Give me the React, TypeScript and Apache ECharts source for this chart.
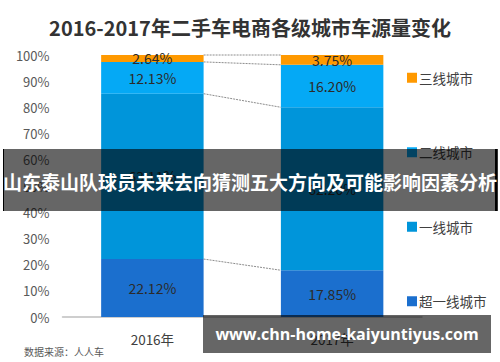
import React, { useEffect, useRef } from "react";
import * as echarts from "echarts";

const categories = ["2016年", "2017年"];
const seriesNames = ["超一线城市", "一线城市", "二线城市", "三线城市"];
const tier0 = [22.12, 17.85];
const tier1 = [63.11, 62.2];
const tier2 = [12.13, 16.2];
const tier3 = [2.64, 3.75];
const colors = ["#1B6FCE", "#0095DA", "#05A9F5", "#FF9900"];
const yTicks = [0, 10, 20, 30, 40, 50, 60, 70, 80, 90, 100];

const FONT = "'Noto Sans CJK SC', 'Noto Sans', sans-serif";

export default function App() {
  const ref = useRef<HTMLDivElement>(null);
  useEffect(() => {
    if (!ref.current) return;
    const chart = echarts.init(ref.current, undefined, { renderer: "svg" });
    const values = [tier0, tier1, tier2, tier3];
    // cumulative boundaries for connector lines
    const boundaries: number[][] = [];
    let c0 = 0;
    let c1 = 0;
    for (let i = 0; i < values.length; i++) {
      c0 += values[i][0];
      c1 += values[i][1];
      boundaries.push([0, Math.min(c0, 100), Math.min(c1, 100)]);
    }
    const barFrac = 0.57;
    const barSeries = values.map((v, i) => ({
      name: seriesNames[i],
      type: "bar",
      stack: "total",
      barWidth: "57%",
      data: v,
      itemStyle: { color: colors[i] },
      label: {
        show: true,
        position: "inside",
        formatter: (p: any) => p.value.toFixed(2) + "%",
        color: "#2b2b2b",
        fontSize: 14,
        fontFamily: FONT,
      },
      z: 2,
    }));
    chart.setOption({
      animation: false,
      textStyle: { fontFamily: FONT },
      title: {
        text: "2016-2017年二手车电商各级城市车源量变化",
        left: "center",
        top: 12,
        textStyle: { fontSize: 20, fontWeight: "bold", color: "#333", fontFamily: FONT },
      },
      legend: {
        orient: "vertical",
        left: 402,
        top: 66,
        itemGap: 61,
        itemWidth: 10,
        itemHeight: 10,
        icon: "rect",
        data: [...seriesNames].reverse(),
        textStyle: { fontSize: 13.5, color: "#404040", fontFamily: FONT, padding: [0, 0, 0, -3] },
      },
      grid: { left: 62.5, right: 78, top: 55, bottom: 45 },
      xAxis: {
        type: "category",
        data: categories,
        axisLine: { lineStyle: { color: "#bfbfbf", width: 1.5 } },
        axisTick: { show: false },
        axisLabel: { fontSize: 13.5, color: "#404040", margin: 15, fontFamily: FONT },
      },
      yAxis: {
        type: "value",
        min: yTicks[0],
        max: yTicks[yTicks.length - 1],
        interval: 10,
        axisLine: { show: false },
        axisTick: { show: false },
        splitLine: { show: false },
        axisLabel: {
          formatter: "{value}%",
          fontSize: 13,
          color: "#595959",
          margin: 13,
          fontFamily: FONT,
        },
      },
      series: [
        ...barSeries,
        {
          type: "custom",
          silent: true,
          data: boundaries,
          z: 1,
          renderItem: (params: any, api: any) => {
            const a = api.coord([0, api.value(1)]);
            const b = api.coord([1, api.value(2)]);
            const band = api.size([1, 0])[0];
            const half = (band * barFrac) / 2;
            return {
              type: "line",
              shape: { x1: a[0] + half, y1: a[1], x2: b[0] - half, y2: b[1] },
              style: { stroke: "#8c8c8c", lineWidth: 1, lineDash: [2, 1] },
            };
          },
        },
      ],
      graphic: [
        {
          type: "text",
          left: 24,
          top: 346,
          style: { text: "数据来源：人人车", fontSize: 10, fill: "#595959", fontFamily: FONT },
        },
        {
          type: "rect",
          z: 100,
          shape: { x: 3, y: 149, width: 495, height: 62 },
          style: { fill: "rgba(0,0,0,0.6)" },
        },
        {
          type: "line",
          z: 101,
          shape: { x1: 3.5, y1: 149, x2: 3.5, y2: 211 },
          style: { stroke: "#000", lineWidth: 1 },
        },
        {
          type: "rect",
          z: 101,
          shape: { x: 495, y: 149, width: 2.5, height: 62 },
          style: { fill: "#000" },
        },
        {
          type: "text",
          z: 102,
          x: 250,
          y: 181,
          style: {
            text: "山东泰山队球员未来去向猜测五大方向及可能影响因素分析",
            fontSize: 19,
            fontWeight: "bold",
            fill: "#fff",
            align: "center",
            verticalAlign: "middle",
            fontFamily: FONT,
          },
        },
        {
          type: "rect",
          z: 100,
          shape: { x: 203, y: 315, width: 288, height: 38 },
          style: { fill: "rgba(0,0,0,0.6)" },
        },
        {
          type: "text",
          z: 102,
          x: 347,
          y: 334,
          style: {
            text: "www.chn-home-kaiyuntiyus.com",
            fontSize: 16,
            fontWeight: "bold",
            fill: "#fff",
            align: "center",
            verticalAlign: "middle",
            fontFamily: "'Open Sans', 'Noto Sans', sans-serif",
          },
        },
      ],
    });
    return () => chart.dispose();
  }, []);
  return <div ref={ref} style={{ width: 500, height: 362, position: "absolute", left: 0, top: 0 }} />;
}
